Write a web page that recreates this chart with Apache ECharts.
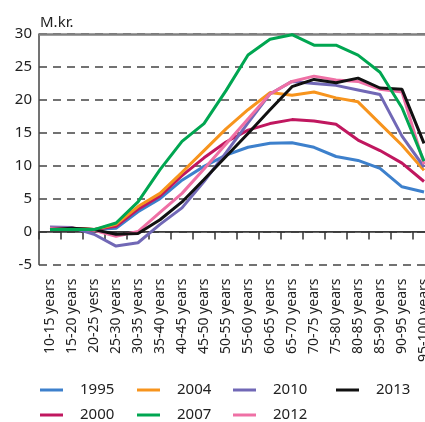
<!DOCTYPE html>
<html>
<head>
<meta charset="utf-8">
<script src="https://cdn.jsdelivr.net/npm/echarts@6/dist/echarts.min.js"></script>
<style>
  html, body { margin: 0; padding: 0; background: #fff; }
  #chart { width: 425px; height: 422px; }
</style>
</head>
<body>
<div id="chart"></div>
<script>
// Age groups along the x axis
const ageGroups = [
  '10-15 years', '15-20 years', '20-25 yesrs', '25-30 years', '30-35 years',
  '35-40 years', '40-45 years', '45-50 years', '50-55 years', '55-60 years',
  '60-65 years', '65-70 years', '70-75 years', '75-80 years', '80-85 years',
  '85-90 years', '90-95 years', '95-100 years'
];

// Net wealth per person, million kr., by year
const y1995 = [0.3, 0.3, 0.3, 0.5, 3.0, 5.0, 7.8, 9.9, 11.6, 12.8, 13.4, 13.5, 12.8, 11.4, 10.8, 9.6, 6.8, 6.0];
const y2000 = [0.5, 0.5, 0.3, 0.8, 3.4, 5.4, 8.5, 11.2, 13.6, 15.4, 16.4, 17.0, 16.8, 16.3, 13.9, 12.3, 10.4, 7.6];
const y2004 = [0.5, 0.5, 0.3, 1.1, 3.8, 5.8, 9.0, 12.3, 15.6, 18.5, 21.1, 20.7, 21.2, 20.3, 19.7, 16.4, 13.1, 9.3];
const y2007 = [0.3, 0.3, 0.3, 1.3, 4.5, 9.4, 13.7, 16.4, 21.4, 26.8, 29.2, 29.9, 28.3, 28.3, 26.8, 24.2, 18.8, 10.7];
const y2010 = [0.7, 0.6, -0.4, -2.2, -1.7, 1.1, 3.6, 7.6, 12.0, 16.5, 20.9, 22.8, 22.5, 22.2, 21.5, 20.8, 14.5, 9.8];
const y2012 = [0.5, 0.5, 0.2, -0.7, 0.0, 2.9, 5.8, 9.5, 13.3, 17.1, 20.9, 22.8, 23.6, 23.0, 22.8, 21.6, 21.2, 10.2];
const y2013 = [0.3, 0.5, 0.3, -0.4, -0.3, 1.8, 4.5, 7.9, 11.4, 14.9, 18.5, 22.0, 23.1, 22.6, 23.3, 21.8, 21.6, 13.4];

const yTicks = { min: -5, max: 30, step: 5 };

const palette = {
  '1995': '#3d80cc',
  '2000': '#c0175f',
  '2004': '#f7941d',
  '2007': '#00a651',
  '2010': '#7168b6',
  '2012': '#ef70a5',
  '2013': '#111111'
};

const seriesData = [
  ['1995', y1995], ['2000', y2000], ['2004', y2004], ['2010', y2010],
  ['2012', y2012], ['2013', y2013], ['2007', y2007]
];

// Legend slots: [year, left, top]
const legendSlots = [
  ['1995', 40, 382], ['2004', 137, 382], ['2010', 233, 382], ['2013', 336, 382],
  ['2000', 40, 407], ['2007', 137, 407], ['2012', 233, 407]
];

const FONT = '"Noto Sans", "Open Sans", sans-serif';

const series = seriesData.map(([name, data], i) => ({
  name,
  type: 'line',
  data,
  symbol: 'none',
  smooth: false,
  lineStyle: { width: 3, color: palette[name] },
  itemStyle: { color: palette[name] },
  z: 3 + i,
  markLine: i === 0 ? {
    silent: true,
    symbol: 'none',
    label: { show: false },
    z: 2,
    data: [
      { yAxis: 0, lineStyle: { color: '#333', width: 1.5, type: 'solid' } },
      { yAxis: 30, lineStyle: { color: '#808080', width: 2.5, type: 'solid' } }
    ]
  } : undefined
}));

const legends = legendSlots.map(([name, left, top]) => ({
  left, top,
  padding: 0,
  itemWidth: 23, itemHeight: 12,
  data: [{ name, icon: 'path://M0,5 L23,5 L23,8 L0,8 Z' }],
  textStyle: { fontFamily: FONT, fontSize: 15, lineHeight: 16, color: '#222', padding: [0, 0, 0, 12] },
  selectedMode: false
}));

const chart = echarts.init(document.getElementById('chart'), null, { renderer: 'canvas' });
chart.setOption({
  animation: false,
  backgroundColor: '#fff',
  title: {
    text: 'M.kr.',
    left: 35, top: 10,
    textStyle: { fontFamily: FONT, fontSize: 15, fontWeight: 'normal', color: '#222' }
  },
  legend: legends,
  grid: {
    left: 39, top: 34, width: 396, height: 230.5,
    containLabel: false, outerBoundsMode: 'none'
  },
  xAxis: {
    type: 'category',
    data: ageGroups,
    boundaryGap: true,
    axisLine: { show: true, lineStyle: { color: '#555', width: 1 } },
    axisTick: { show: true, length: 8, lineStyle: { color: '#333', width: 1.5 } },
    axisLabel: {
      rotate: 90, interval: 0, margin: 14,
      fontFamily: FONT, fontSize: 14, color: '#222'
    },
    splitLine: { show: false }
  },
  yAxis: {
    type: 'value',
    min: yTicks.min, max: yTicks.max, interval: yTicks.step,
    axisLine: { show: true, lineStyle: { color: '#444', width: 1.5 } },
    axisTick: { show: false },
    axisLabel: { margin: 7, fontFamily: FONT, fontSize: 15, color: '#222' },
    splitLine: { show: true, lineStyle: { color: '#444', width: 1.5, type: [8, 6] } }
  },
  series
});
</script>
</body>
</html>
